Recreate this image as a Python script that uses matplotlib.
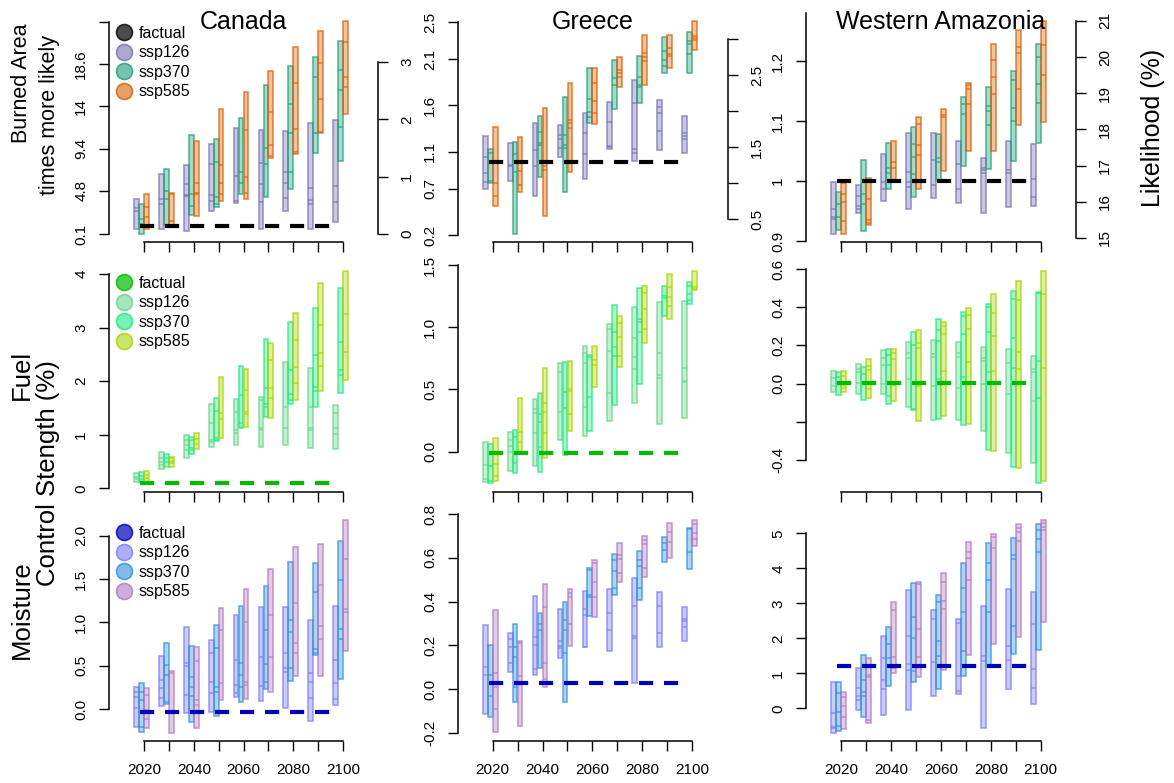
import numpy as np
import matplotlib.pyplot as plt
from matplotlib.colors import to_rgba
from matplotlib.lines import Line2D

plt.rcParams['font.family'] = ['Liberation Sans', 'DejaVu Sans']

W, H = 1174, 783

years = [2020, 2030, 2040, 2050, 2060, 2070, 2080, 2090, 2100]
scenarios = ['ssp126', 'ssp370', 'ssp585']
regions = ['Canada', 'Greece', 'Western Amazonia']

# each box: (low, high, inner lines...)
can_burn_126 = [(0.61, 3.88, 2.93, 2.64), (0.68, 6.64, 3.88, 3.37), (0.46, 7.62, 5.51, 4.35, 4.24),
                (2.64, 9.87, 7.69, 4.35, 3.73), (3.51, 11.69, 6.46, 3.73), (0.68, 11.43, 7.8, 5.51, 3.62),
                (2.61, 11.36, 6.89, 5.69, 3.98), (0.61, 12.16, 5.08, 3.8, 3.37), (1.44, 12.52, 5.33, 3.55)]
can_burn_370 = [(0.1, 3.37, 1.77, 1.19), (1.04, 7.15, 4.82, 3.88), (2.13, 10.85, 4.42, 3.19),
                (3.08, 10.4, 7.98, 4.17, 3.37), (4.46, 12.78, 6.89, 5.69), (4.17, 16.34, 9.44, 7.73),
                (5.04, 18.41, 14.27, 11.07, 6.82), (8.89, 19.35, 17.17, 11.14), (8.09, 21.17, 17.97, 15.79, 11.8)]
can_burn_585 = [(0.61, 4.46, 3.0, 1.9, 0.9), (0.9, 4.6, 4.46, 1.48), (2.06, 10.2, 5.69, 4.6, 4.46),
                (3.73, 13.68, 7.62, 5.69, 4.46), (3.91, 15.54, 11.43, 6.28, 4.6), (8.35, 17.86, 13.36, 9.76, 8.6),
                (8.78, 20.5, 16.5, 11.5, 9.07), (11.07, 22.22, 18.77, 14.77, 11.18), (13.18, 23.31, 20.99, 17.24, 16.08)]

gre_burn_126 = [(0.70, 1.27, 1.047, 0.867, 0.774), (0.785, 1.197, 0.957, 0.94), (0.616, 1.406, 1.118, 0.946),
                (1.047, 1.384, 1.28, 1.233, 1.137), (0.806, 1.513, 1.305, 1.075), (1.126, 1.64, 1.42, 1.16, 1.147),
                (1.0, 1.879, 1.628, 1.13, 1.083), (1.118, 1.657, 1.585, 1.513, 1.327), (1.083, 1.488, 1.305, 1.27, 1.233)]
gre_burn_370 = [(0.76, 1.126, 1.083, 0.778), (0.214, 1.208, 1.075, 0.875), (0.83, 1.485, 1.316, 1.19, 1.172),
                (0.66, 1.69, 1.28, 1.172, 1.137), (1.413, 2.0, 1.664, 1.53, 1.47), (1.56, 2.087, 1.897, 1.818),
                (1.62, 2.13, 1.908, 1.818, 1.793), (1.954, 2.339, 2.188, 2.087, 2.026), (1.954, 2.392, 2.296, 2.267, 2.159)]
gre_burn_585 = [(0.51, 1.37, 0.76, 0.616), (0.66, 1.262, 1.0, 0.89, 0.735), (0.4, 1.567, 0.946, 0.903),
                (0.885, 1.836, 1.44, 1.41, 1.36), (1.395, 2.0, 1.836, 1.646, 1.513), (1.8, 2.123, 1.98, 1.944, 1.908),
                (1.815, 2.364, 2.166, 2.123, 2.077), (2.0, 2.356, 2.22, 2.159, 2.13), (2.2, 2.51, 2.346, 2.328, 2.31)]

ama_burn_126 = [(0.912, 0.9985, 0.954, 0.94, 0.936), (0.946, 0.994, 0.975, 0.958, 0.954), (0.966, 1.045, 0.999, 0.986),
                (0.954, 1.08, 1.015, 0.999, 0.99), (0.972, 1.08, 1.035, 0.993), (0.964, 1.066, 1.029, 0.986),
                (0.946, 1.039, 1.022, 1.018, 1.014), (0.956, 1.066, 1.019, 1.014), (0.958, 1.061, 1.004, 0.973)]
ama_burn_370 = [(0.918, 0.982, 0.961, 0.94), (0.916, 1.035, 0.979, 0.962), (0.986, 1.064, 1.021, 1.014),
                (0.973, 1.09, 1.061, 1.04, 1.011), (1.001, 1.079, 1.039, 1.031), (1.025, 1.14, 1.128, 1.111),
                (1.02, 1.156, 1.125, 1.117, 1.094), (1.033, 1.183, 1.169, 1.121, 1.1), (1.064, 1.228, 1.206, 1.162, 1.13)]
ama_burn_585 = [(0.911, 0.996, 0.979, 0.965, 0.933), (0.926, 1.005, 0.97, 0.935, 0.93), (0.999, 1.066, 1.032, 1.021),
                (0.987, 1.106, 1.095, 1.06, 1.043), (1.016, 1.12, 1.11, 1.107), (1.05, 1.163, 1.16, 1.154, 1.128),
                (1.05, 1.228, 1.202, 1.173, 1.145), (1.094, 1.251, 1.224, 1.213, 1.154), (1.098, 1.267, 1.227, 1.176)]

can_fuel_126 = [(0.11, 0.29, 0.218, 0.168), (0.36, 0.67, 0.56, 0.5, 0.435), (0.56, 1.0, 0.9, 0.81, 0.715),
                (0.765, 1.57, 1.21, 0.9, 0.86), (0.8, 1.66, 1.42, 1.09, 1.03), (0.78, 1.7, 1.64, 1.12, 1.09),
                (0.8, 2.35, 1.51, 1.13), (0.75, 2.24, 1.52, 1.13, 1.09), (0.734, 1.555, 1.41, 1.12, 1.01)]
can_fuel_370 = [(0.11, 0.305, 0.23, 0.168), (0.40, 0.64, 0.56, 0.485), (0.64, 0.965, 0.9, 0.75, 0.715),
                (0.89, 1.68, 1.44, 0.93, 0.9), (1.12, 2.28, 1.74, 1.21, 1.15), (1.33, 2.79, 1.87, 1.57, 1.52),
                (1.57, 3.1, 2.2, 1.76, 1.65), (1.52, 3.37, 2.49, 1.885, 1.82), (1.77, 3.73, 2.74, 2.2, 2.115)]
can_fuel_585 = [(0.124, 0.32, 0.249, 0.187), (0.40, 0.59, 0.56, 0.51, 0.467), (0.734, 1.03, 0.914, 0.827),
                (0.93, 2.08, 1.4, 1.3), (1.15, 2.22, 1.835, 1.42, 1.39), (1.32, 2.71, 2.395, 1.87, 1.68),
                (1.64, 3.27, 2.76, 2.26, 1.96), (1.82, 3.84, 3.04, 2.52, 2.29), (2.03, 4.06, 3.25, 2.55)]

gre_fuel_126 = [(-0.24, 0.08, -0.107, -0.222), (-0.153, 0.16, 0.094, 0.048, 0.0), (-0.115, 0.423, 0.343, 0.308, 0.147),
                (0.094, 0.715, 0.643, 0.316), (0.129, 0.852, 0.796, 0.71, 0.362), (0.249, 1.023, 0.983, 0.812, 0.474),
                (0.394, 1.165, 0.911, 0.758, 0.662), (0.222, 1.205, 0.796, 0.616, 0.589), (0.268, 1.213, 0.675, 0.568, 0.563)]
gre_fuel_370 = [(-0.255, 0.062, -0.115, -0.233), (-0.174, 0.174, 0.115, -0.094), (-0.166, 0.474, 0.3, 0.236, 0.035),
                (-0.027, 0.723, 0.482, 0.348), (0.166, 0.777, 0.763, 0.437), (0.375, 1.179, 0.964, 0.844, 0.769),
                (0.541, 1.313, 1.066, 1.045, 0.964), (1.09, 1.331, 1.251, 1.232), (1.187, 1.361, 1.334, 1.267, 1.219)]
gre_fuel_585 = [(-0.233, 0.107, -0.021, -0.099, -0.196), (-0.008, 0.434, 0.16, 0.08), (-0.054, 0.675, 0.388, 0.316, 0.147),
                (0.166, 0.729, 0.5, 0.487, 0.3), (0.522, 0.852, 0.737, 0.696), (0.678, 1.093, 1.031, 0.919, 0.769),
                (0.871, 1.331, 1.278, 1.144, 0.986), (1.063, 1.425, 1.321, 1.24, 1.173), (1.299, 1.455, 1.321, 1.307)]

ama_fuel_126 = [(-0.042, 0.066, 0.031, -0.012), (-0.056, 0.103, 0.075, 0.063, 0.005), (-0.056, 0.176, 0.133, 0.098, -0.003),
                (-0.12, 0.22, 0.159, 0.133, 0.023), (-0.19, 0.228, 0.153, 0.141, -0.012), (-0.19, 0.22, 0.162, 0.141, -0.021),
                (-0.246, 0.19, 0.133, 0.12, -0.002), (-0.365, 0.18, 0.106, -0.054), (-0.413, 0.145, 0.075, 0.063, -0.089)]
ama_fuel_370 = [(-0.059, 0.063, 0.037, 0.002), (-0.085, 0.089, 0.051, 0.002), (-0.106, 0.181, 0.15, 0.098, -0.063),
                (-0.138, 0.272, 0.202, -0.002, -0.134), (-0.187, 0.337, 0.281, 0.223, 0.024), (-0.216, 0.377, 0.354, 0.26, 0.037),
                (-0.347, 0.415, 0.399, 0.272, 0.063), (-0.438, 0.487, 0.441, 0.237, 0.08), (-0.522, 0.481, 0.476, 0.12, -0.077)]
ama_fuel_585 = [(-0.042, 0.066, 0.04, -0.007, -0.024), (-0.077, 0.129, 0.092, 0.072, -0.03), (-0.089, 0.18, 0.159, 0.129, -0.007),
                (-0.195, 0.281, 0.215, 0.185, -0.012), (-0.169, 0.324, 0.302, 0.26, 0.068), (-0.213, 0.398, 0.359, 0.286, 0.112),
                (-0.352, 0.469, 0.368, 0.251, 0.068), (-0.443, 0.539, 0.438, 0.167, 0.075), (-0.509, 0.591, 0.469, 0.084)]

can_moist_126 = [(-0.204, 0.258, 0.2, 0.142, 0.008), (0.035, 0.612, 0.335, 0.246, 0.123), (-0.05, 0.95, 0.527, 0.5, 0.162),
                 (-0.031, 0.796, 0.642, 0.315, 0.181), (0.142, 1.085, 0.565, 0.277, 0.181), (0.092, 1.181, 0.604, 0.265),
                 (0.015, 1.181, 0.642, 0.469, 0.431), (-0.135, 1.027, 0.412, 0.315, 0.123), (0.046, 1.188, 0.565, 0.296, 0.115)]
can_moist_370 = [(-0.262, 0.296, 0.2, 0.104, -0.204), (0.058, 0.758, 0.508, 0.392, 0.085), (-0.154, 0.727, 0.373, 0.258, 0.154),
                 (-0.081, 0.969, 0.708, 0.258, 0.2), (0.077, 1.188, 0.527, 0.392, 0.25), (0.227, 1.419, 0.912, 0.519, 0.308),
                 (0.327, 1.7, 1.027, 0.892, 0.477), (0.623, 1.681, 1.346, 0.688, 0.65), (0.342, 1.942, 1.488, 0.919, 0.808)]
can_moist_585 = [(-0.215, 0.246, 0.162, -0.012, -0.119), (-0.273, 0.438, 0.419, -0.019), (-0.215, 0.719, 0.554, 0.104, 0.046),
                 (0.104, 1.162, 0.912, 0.304), (0.115, 1.381, 1.008, 0.315, 0.277), (0.192, 1.615, 1.085, 0.596),
                 (0.385, 1.873, 1.219, 0.758, 0.65), (0.385, 1.9, 1.431, 0.958, 0.804), (0.673, 2.181, 1.731, 1.15, 1.115)]

gre_moist_126 = [(-0.114, 0.293, 0.102, 0.064), (0.076, 0.258, 0.227, 0.19, 0.117), (0.064, 0.427, 0.239, 0.201, 0.09),
                 (0.143, 0.364, 0.219, 0.197, 0.186), (0.19, 0.448, 0.364, 0.337, 0.194), (0.175, 0.456, 0.346, 0.27),
                 (0.026, 0.509, 0.379, 0.242, 0.232), (0.19, 0.442, 0.379, 0.254), (0.221, 0.376, 0.318, 0.312, 0.285)]
gre_moist_370 = [(-0.13, 0.201, 0.064, -0.03), (-0.061, 0.297, 0.194, 0.148, 0.011), (0.098, 0.346, 0.296, 0.27),
                 (-0.058, 0.396, 0.315, 0.27, 0.166), (0.334, 0.552, 0.544, 0.43, 0.422), (0.43, 0.616, 0.59, 0.541, 0.46),
                 (0.407, 0.632, 0.59, 0.562, 0.463), (0.579, 0.693, 0.666, 0.635), (0.547, 0.738, 0.73, 0.628)]
gre_moist_585 = [(-0.198, 0.361, 0.072, 0.008, -0.093), (-0.168, 0.219, 0.209, 0.059), (0.011, 0.478, 0.376, 0.117, 0.046),
                 (0.198, 0.457, 0.437, 0.422, 0.296), (0.331, 0.59, 0.574, 0.491, 0.422), (0.488, 0.669, 0.613, 0.593, 0.529),
                 (0.51, 0.701, 0.681, 0.663, 0.555), (0.6, 0.757, 0.716, 0.674), (0.654, 0.773, 0.754, 0.712, 0.684)]

ama_moist_126 = [(-0.695, 0.762, -0.143, -0.524, -0.571), (-0.048, 1.162, 0.571, 0.352, 0.238), (-0.19, 2.067, 1.448, 0.81, 0.552),
                 (-0.048, 3.381, 2.067, 1.267, 1.095), (0.362, 2.81, 2.543, 1.333), (0.41, 2.552, 2.448, 0.924, 0.505),
                 (-0.571, 2.933, 1.495, 1.352), (0.552, 3.4, 1.79, 1.381), (0.124, 3.333, 2.41, 1.114, 0.571)]
ama_moist_370 = [(-0.648, 0.762, 0.448, -0.114, -0.495), (-0.257, 1.524, 0.81, 0.476, 0.362), (0.648, 2.333, 1.838, 1.429),
                 (0.762, 3.571, 2.619, 2.019, 1.076), (0.552, 3.238, 3.048, 1.933, 1.505), (0.933, 4.143, 3.448, 2.762, 1.638),
                 (1.19, 4.714, 4.143, 3.667, 2.762), (1.552, 4.876, 4.381, 4.267, 2.362), (1.667, 5.257, 5.095, 4.829, 4.476)]
ama_moist_585 = [(-0.6, 0.476, 0.333, 0.076, -0.257), (-0.41, 1.429, 0.952, 0.905, -0.333), (1.0, 3.048, 2.81, 1.457, 1.143),
                 (0.905, 3.619, 3.543, 2.257, 1.476), (1.095, 3.857, 3.619, 3.076, 2.829), (1.524, 4.743, 4.476, 4.305, 3.667),
                 (1.838, 4.981, 4.905, 4.571), (2.048, 5.257, 5.143, 5.029, 4.79), (2.457, 5.381, 5.286, 5.19, 5.095)]

# factual reference level per row (Canada, Greece, Western Amazonia)
burn_factual = [1.0, 0.993, 1.0]
fuel_factual = [0.093, -0.008, 0.005]
moist_factual = [-0.031, 0.026, 1.219]

# y tick values and labels per panel
burn_ticks = [[0.1, 4.8, 9.4, 14, 18.6, 23.2], [0.2, 0.7, 1.1, 1.6, 2.1, 2.5], [0.9, 1.0, 1.1, 1.2]]
burn_labels = [['0.1', '4.8', '9.4', '14', '18.6', ''], ['0.2', '0.7', '1.1', '1.6', '2.1', '2.5'],
               ['0.9', '1', '1.1', '1.2']]
fuel_ticks = [[0, 1, 2, 3, 4], [0, 0.5, 1.0, 1.5], [-0.4, -0.2, 0, 0.2, 0.4, 0.6]]
fuel_labels = [['0', '1', '2', '3', '4'], ['0.0', '0.5', '1.0', '1.5'], ['-0.4', '', '0.0', '0.2', '0.4', '0.6']]
moist_ticks = [[0, 0.5, 1.0, 1.5, 2.0], [-0.2, 0, 0.2, 0.4, 0.6, 0.8], [0, 1, 2, 3, 4, 5]]
moist_labels = [['0.0', '0.5', '1.0', '1.5', '2.0'], ['-0.2', '0.0', '0.2', '0.4', '0.6', '0.8'],
                ['0', '1', '2', '3', '4', '5']]
# secondary likelihood axes on the top row
like_ticks = [[0, 1, 2, 3], [0.5, 1.0, 1.5, 2.0, 2.5, 3.0], [15, 16, 17, 18, 19, 20, 21]]
like_labels = [['0', '1', '2', '3'], ['0.5', '', '1.5', '', '2.5', ''], ['15', '16', '17', '18', '19', '20', '21']]

rows = [
    ([[can_burn_126, can_burn_370, can_burn_585], [gre_burn_126, gre_burn_370, gre_burn_585],
      [ama_burn_126, ama_burn_370, ama_burn_585]], burn_factual, burn_ticks, burn_labels),
    ([[can_fuel_126, can_fuel_370, can_fuel_585], [gre_fuel_126, gre_fuel_370, gre_fuel_585],
      [ama_fuel_126, ama_fuel_370, ama_fuel_585]], fuel_factual, fuel_ticks, fuel_labels),
    ([[can_moist_126, can_moist_370, can_moist_585], [gre_moist_126, gre_moist_370, gre_moist_585],
      [ama_moist_126, ama_moist_370, ama_moist_585]], moist_factual, moist_ticks, moist_labels),
]

row_colors = [
    ['black', '#7570b3', '#1b9e77', '#d95f02'],
    ['#00bb00', '#66d68a', '#1fe882', '#a8d400'],
    ['#0000bb', '#7b7bf5', '#2f8fdb', '#b07ac0'],
]

# layout in pixels
col_left = [109, 458, 806]
col_right = [378, 728, 1076]
col_x2020 = [144, 492.7, 841]
col_x2100 = [343, 692, 1040.7]
row_top = [8, 258, 508]
row_bottom = [242, 492, 741]
# (value, pixel, value, pixel) anchors for the y scales
y_anchor = [
    [(0.1, 234, 23.2, 22), (0.2, 235, 2.5, 22), (0.9, 241, 1.2, 61)],
    [(0, 488.3, 4, 274), (0, 451.7, 1.5, 265), (0, 383.7, 0.6, 269)],
    [(0, 709, 2, 535.7), (0, 689, 0.8, 514), (0, 708.3, 5, 533.3)],
]
like_anchor = [(0, 234, 3, 62), (0.5, 219, 3.0, 39), (15, 238, 21, 21)]

offsets = [-3, -1, 1]
box_w = 1.9

fig = plt.figure(figsize=(W / 100, H / 100), dpi=100)


def px_axes(left, top, right, bottom):
    return fig.add_axes([left / W, 1 - bottom / H, (right - left) / W, (bottom - top) / H])


def lim_from(anchor, top, bottom):
    v0, p0, v1, p1 = anchor
    s = (p0 - p1) / (v1 - v0)
    return v0 - (bottom - p0) / s, v0 + (p0 - top) / s


def style_axis(ax, side, ticks, labels, pad):
    ax.set_yticks(ticks)
    ax.set_yticklabels(labels)
    ax.tick_params(axis='y', direction='out', length=7, width=1, labelsize=11,
                   labelrotation=90, pad=pad)
    for lab in ax.get_yticklabels():
        lab.set_va('center')
    ax.spines[side].set_bounds(ticks[0], ticks[-1])


for r, (panel_data, factual, yt, yl) in enumerate(rows):
    cols = row_colors[r]
    for c in range(3):
        ax = px_axes(col_left[c], row_top[r], col_right[c], row_bottom[r])
        s = (col_x2100[c] - col_x2020[c]) / 80
        ax.set_xlim(2020 - (col_x2020[c] - col_left[c]) / s, 2020 + (col_right[c] - col_x2020[c]) / s)
        ax.set_ylim(*lim_from(y_anchor[r][c], row_top[r], row_bottom[r]))
        ax.patch.set_alpha(0)
        for sp in ['top', 'right']:
            ax.spines[sp].set_visible(False)

        for k, boxes in enumerate(panel_data[c]):
            col = cols[k + 1]
            xs = [y + offsets[k] for y in years]
            lo = np.array([b[0] for b in boxes])
            hi = np.array([b[1] for b in boxes])
            ax.bar(xs, hi - lo, bottom=lo, width=box_w, color=to_rgba(col, 0.38),
                   edgecolor=to_rgba(col, 0.7), linewidth=1.2, zorder=2)
            for x, b in zip(xs, boxes):
                ax.hlines(b[2:], x - box_w / 2, x + box_w / 2, color=to_rgba(col, 0.75),
                          lw=1.1, zorder=3)

        ax.plot([years[0] - 1.6, years[-1] - 5], [factual[c], factual[c]], color=cols[0],
                lw=3, dashes=(3.4, 2.6), zorder=4, solid_capstyle='butt', dash_capstyle='butt')

        ax.set_xticks(years)
        if r == 2:
            ax.set_xticklabels([str(y) if i % 2 == 0 else '' for i, y in enumerate(years)])
        else:
            ax.set_xticklabels([])
        ax.tick_params(axis='x', direction='out', length=7, width=1, labelsize=11, pad=9)
        ax.spines['bottom'].set_bounds(years[0], years[-1])
        for sp in ['left', 'bottom']:
            ax.spines[sp].set_linewidth(1.1)
        style_axis(ax, 'left', yt[c], yl[c], 8)
        if r == 0 and c == 2:
            ax.spines['left'].set_bounds(0.9, 1.28)

        if r == 0:
            tw = ax.twinx()
            tw.set_ylim(*lim_from(like_anchor[c], row_top[r], row_bottom[r]))
            for sp in ['top', 'left', 'bottom']:
                tw.spines[sp].set_visible(False)
            tw.spines['right'].set_linewidth(1.1)
            style_axis(tw, 'right', like_ticks[c], like_labels[c], 9)

        if c == 0:
            handles = []
            alphas = [0.7, 0.6, 0.6, 0.6]
            for k, lab in enumerate(['factual'] + scenarios):
                handles.append(Line2D([], [], ls='none', marker='o', ms=11.5,
                                      mfc=to_rgba(cols[k], alphas[k]), mec=to_rgba(cols[k], 0.8),
                                      mew=1.2))
            fig.legend(handles, ['factual'] + scenarios, loc='upper left',
                       bbox_to_anchor=(115 / W, 1 - (row_top[r] + 17.5) / H),
                       frameon=False, fontsize=11.5, handlelength=1.1, handletextpad=0.4,
                       labelspacing=0.29, borderpad=0, borderaxespad=0)

# column titles
title_x = [243.5, 592.5, 941]
for c, name in enumerate(regions):
    fig.text(title_x[c] / W, 1 - 29 / H, name, ha='center', va='baseline', fontsize=18)


# row labels
def side_text(x, y, s, size):
    fig.text(x / W, 1 - y / H, s, rotation=90, ha='center', va='center', fontsize=size)


side_text(22, 83, 'Burned Area', 15.5)
side_text(50, 115, 'times more likely', 15.5)
side_text(22, 375, 'Fuel', 18.5)
side_text(48, 473, 'Control Stength (%)', 18.5)
side_text(22, 610, 'Moisture', 18.5)
side_text(1153, 128, 'Likelihood (%)', 18)

fig.savefig('out.png', dpi=100)
